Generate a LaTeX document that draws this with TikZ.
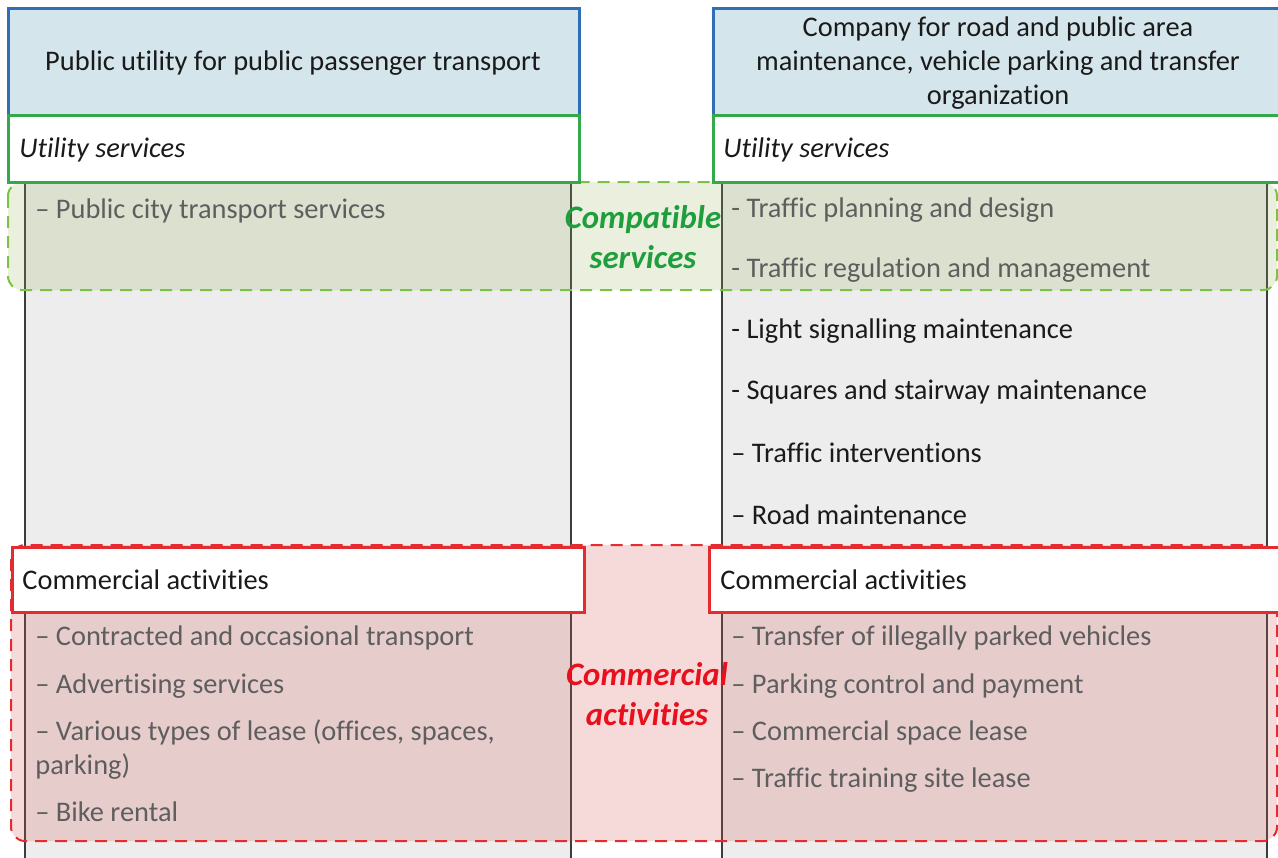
\documentclass[tikz,border=0pt]{standalone}
\usepackage{fontspec}
\setmainfont{Carlito}[Ligatures=NoCommon]
\usetikzlibrary{positioning}

\definecolor{headfill}{HTML}{D5E5EC}
\definecolor{headline}{HTML}{2F6FB5}
\definecolor{utilline}{HTML}{34A84A}
\definecolor{comline}{HTML}{E52A30}
\definecolor{colgray}{HTML}{EDEDED}
\definecolor{colline}{HTML}{3C3C3C}
\definecolor{zonegreen}{HTML}{9AB45A}
\definecolor{zonegreenline}{HTML}{7CC242}
\definecolor{zonered}{HTML}{D45858}
\definecolor{labelgreen}{HTML}{1E9E3C}
\definecolor{labelred}{HTML}{E8101C}
\definecolor{itemgray}{HTML}{5E5E5E}
\definecolor{itemdark}{HTML}{1A1A1A}

\tikzset{
  headbox/.style={draw=headline, line width=1.5pt, fill=headfill},
  utilbox/.style={draw=utilline, line width=1.5pt, fill=white},
  combox/.style={draw=comline, line width=1.5pt, fill=white},
  greenzone/.style={draw=zonegreenline, line width=1pt, dash pattern=on 6pt off 4pt,
    fill=zonegreen, fill opacity=0.2, rounded corners=7pt},
  redzone/.style={draw=comline, line width=1pt, dash pattern=on 6pt off 4pt,
    fill=zonered, fill opacity=0.22, rounded corners=7pt},
  colside/.style={draw=colline, line width=0.6pt},
  headtext/.style={inner sep=0pt, font=\fontsize{14.2}{17}\selectfont, align=center, text=itemdark},
  itemtext/.style={inner sep=0pt, anchor=west, font=\fontsize{14.2}{17}\selectfont, text=itemgray},
  darkitem/.style={itemtext, text=itemdark},
  zonelabel/.style={inner sep=0pt, font=\fontsize{16.4}{20}\selectfont\bfseries\itshape, align=center}
}

\begin{document}
\begin{tikzpicture}[x=0.5pt, y=-0.5pt]
  \useasboundingbox (0,0) rectangle (1278,857);
  \clip (0,0) rectangle (1278,857);

  % columns
  \fill[colgray] (25,182) rectangle (571,870);
  \fill[colgray] (722,182) rectangle (1267,870);
  \draw[colside] (25,182) -- (25,870) (571,182) -- (571,870);
  \draw[colside] (722,182) -- (722,870) (1267,182) -- (1267,870);

  % shared zones
  \draw[greenzone] (8,182) rectangle (1277,290);
  \draw[redzone] (11,545) rectangle (1277,841);

  % headers
  \draw[headbox] (8,8) rectangle (579,115);
  \draw[headbox] (713,8) rectangle (1295,115);
  \draw[utilbox] (8,115) rectangle (579,182);
  \draw[utilbox] (713,115) rectangle (1295,182);
  \draw[combox] (12,547) rectangle (584,612);
  \draw[combox] (709,547) rectangle (1295,612);

  \node[headtext] (lefthead) at (293,63) {Public utility for public passenger transport};
  \node[headtext] (righthead) at (998,63) {Company for road and public area\\maintenance, vehicle parking and transfer\\organization};

  \node[darkitem] (leftutil) at (19,150) {\itshape Utility services};
  \node[darkitem] (rightutil) at (723,150) {\itshape Utility services};
  \node[darkitem] (leftcom) at (22,580) {Commercial activities};
  \node[darkitem] (rightcom) at (720,580) {Commercial activities};

  % left column
  \node[itemtext] (pubcity) at (35,211) {– Public city transport services};
  \node[itemtext] (contract) at (35,638) {– Contracted and occasional transport};
  \node[itemtext] (advert) at (35,686) {– Advertising services};
  \node[itemtext, align=left] (lease) at (35,750) {– Various types of lease (offices, spaces,\\parking)};
  \node[itemtext] (bike) at (35,812) {– Bike rental};

  % right column
  \node[itemtext] (planning) at (731,210) {- Traffic planning and design};
  \node[itemtext] (regulation) at (731,270) {- Traffic regulation and management};
  \node[darkitem] (signal) at (731,331) {- Light signalling maintenance};
  \node[darkitem] (squares) at (731,392) {- Squares and stairway maintenance};
  \node[darkitem] (interv) at (731,453) {– Traffic interventions};
  \node[darkitem] (road) at (731,515) {– Road maintenance};
  \node[itemtext] (transfer) at (731,638) {– Transfer of illegally parked vehicles};
  \node[itemtext] (parking) at (731,686) {– Parking control and payment};
  \node[itemtext] (space) at (731,733) {– Commercial space lease};
  \node[itemtext] (training) at (731,780) {– Traffic training site lease};

  % zone labels
  \node[zonelabel, text=labelgreen] (compat) at (643,237) {Compatible\\services};
  \node[zonelabel, text=labelred] (commerce) at (647,694) {Commercial\\activities};
\end{tikzpicture}
\end{document}
